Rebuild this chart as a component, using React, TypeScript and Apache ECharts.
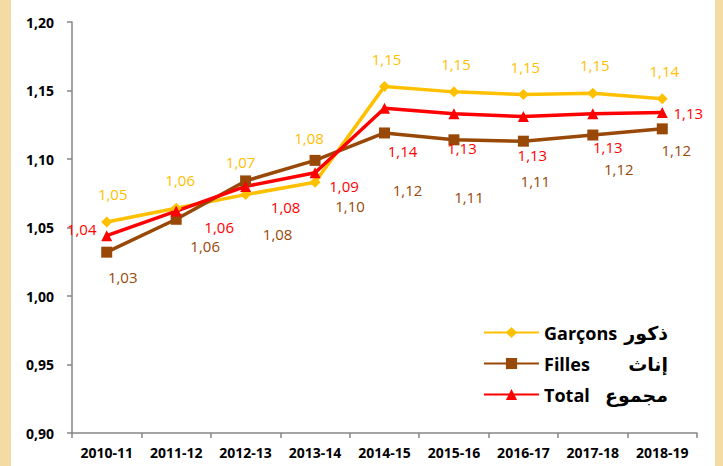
import React, { useEffect, useRef } from "react";
import * as echarts from "echarts";

const categories = ["2010-11", "2011-12", "2012-13", "2013-14", "2014-15", "2015-16", "2016-17", "2017-18", "2018-19"];
const garcons = [1.054, 1.064, 1.074, 1.083, 1.153, 1.149, 1.147, 1.148, 1.144];
const filles = [1.032, 1.056, 1.084, 1.099, 1.119, 1.114, 1.113, 1.1175, 1.122];
const total = [1.044, 1.062, 1.08, 1.09, 1.137, 1.133, 1.131, 1.133, 1.134];
const yTicks = { min: 0.9, max: 1.2, interval: 0.05 };

const seriesNames = ["Garçons ذكور", "Filles إناث", "Total مجموع"];
const legendLatin = ["Garçons", "Filles", "Total"];
const legendArabic = ["ذكور", "إناث", "مجموع"];

// label offsets (styling only)
const garconsLabelOffsets = [[6, -28], [4, -28], [-5, -33], [-6, -44], [2, -27], [2, -28], [2, -28], [2, -28], [2, -28]];
const fillesLabelOffsets = [[16, 25], [29, 27], [32, 53], [35, 46], [23, 57], [15, 57], [12, 40], [26, 34], [14, 21]];
const totalLabelOffsets = [[-25, -7], [43, 16], [40, 21], [29, 13], [18, 43], [8, 34], [9, 38], [15, 33], [26, 1]];

const fmt = (v: number) => v.toFixed(2).replace(".", ",");
const FONT = "'Open Sans', 'Liberation Sans', sans-serif";

export default function App() {
  const ref = useRef<HTMLDivElement>(null);
  useEffect(() => {
    if (!ref.current) return;
    const chart = echarts.init(ref.current, null, { renderer: "svg" });
    const mk = (
      name: string,
      values: number[],
      offsets: number[][],
      color: string,
      labelColor: string,
      symbol: string,
      symbolSize: number
    ) => ({
      name,
      type: "line",
      data: values.map((v, i) => ({ value: v, label: { offset: offsets[i] } })),
      symbol,
      symbolSize,
      lineStyle: { color, width: 3.5 },
      itemStyle: { color },
      label: {
        show: true,
        position: "inside",
        color: labelColor,
        fontSize: 15,
        lineHeight: 15,
        fontFamily: FONT,
        formatter: (p: any) => fmt(p.value),
      },
    });
    chart.setOption({
      animation: false,
      backgroundColor: "#ffffff",
      graphic: [
        { type: "rect", shape: { x: 0, y: 0, width: 11, height: 466 }, style: { fill: "#F4DBA3" }, silent: true },
        { type: "rect", shape: { x: 715, y: 0, width: 8, height: 466 }, style: { fill: "#F4DBA3" }, silent: true },
      ],
      grid: { left: 72, right: 26, top: 22, bottom: 33, containLabel: false },
      legend: {
        orient: "vertical",
        left: 483,
        top: 323,
        itemWidth: 55,
        itemHeight: 14,
        itemGap: 12,
        padding: 0,
        data: seriesNames,
        formatter: (name: string) => {
          const i = seriesNames.indexOf(name);
          return `{l|${legendLatin[i]}}{r|${legendArabic[i]}}`;
        },
        textStyle: {
          rich: {
            l: { fontFamily: FONT, fontWeight: "bold", fontSize: 18, lineHeight: 22, color: "#000", width: 72 },
            r: { fontFamily: "'DejaVu Sans', sans-serif", fontWeight: "bold", fontSize: 19, lineHeight: 22, color: "#000", width: 52, align: "right" },
          },
        },
      },
      xAxis: {
        type: "category",
        data: categories,
        boundaryGap: true,
        axisLine: { lineStyle: { color: "#868686", width: 1.5 } },
        axisTick: { show: true, length: 5, lineStyle: { color: "#868686", width: 1.5 } },
        axisLabel: { color: "#000", fontWeight: "bold", fontSize: 14, fontFamily: FONT, margin: 12 },
        splitLine: { show: false },
      },
      yAxis: {
        type: "value",
        min: yTicks.min,
        max: yTicks.max,
        interval: yTicks.interval,
        axisLine: { show: true, lineStyle: { color: "#868686", width: 1.5 } },
        axisTick: { show: true, length: 5, lineStyle: { color: "#868686", width: 1.5 } },
        axisLabel: { color: "#000", fontWeight: "bold", fontSize: 14, fontFamily: FONT, margin: 18, formatter: (v: number) => fmt(v) },
        splitLine: { show: false },
      },
      series: [
        mk(seriesNames[0], garcons, garconsLabelOffsets, "#FFC000", "#FFC000", "diamond", 11),
        mk(seriesNames[1], filles, fillesLabelOffsets, "#984807", "#984807", "rect", 11),
        mk(seriesNames[2], total, totalLabelOffsets, "#FF0000", "#FF0000", "triangle", 11),
      ],
    });
    return () => chart.dispose();
  }, []);
  return <div ref={ref} style={{ position: "fixed", left: 0, top: 0, width: 723, height: 466 }} />;
}
